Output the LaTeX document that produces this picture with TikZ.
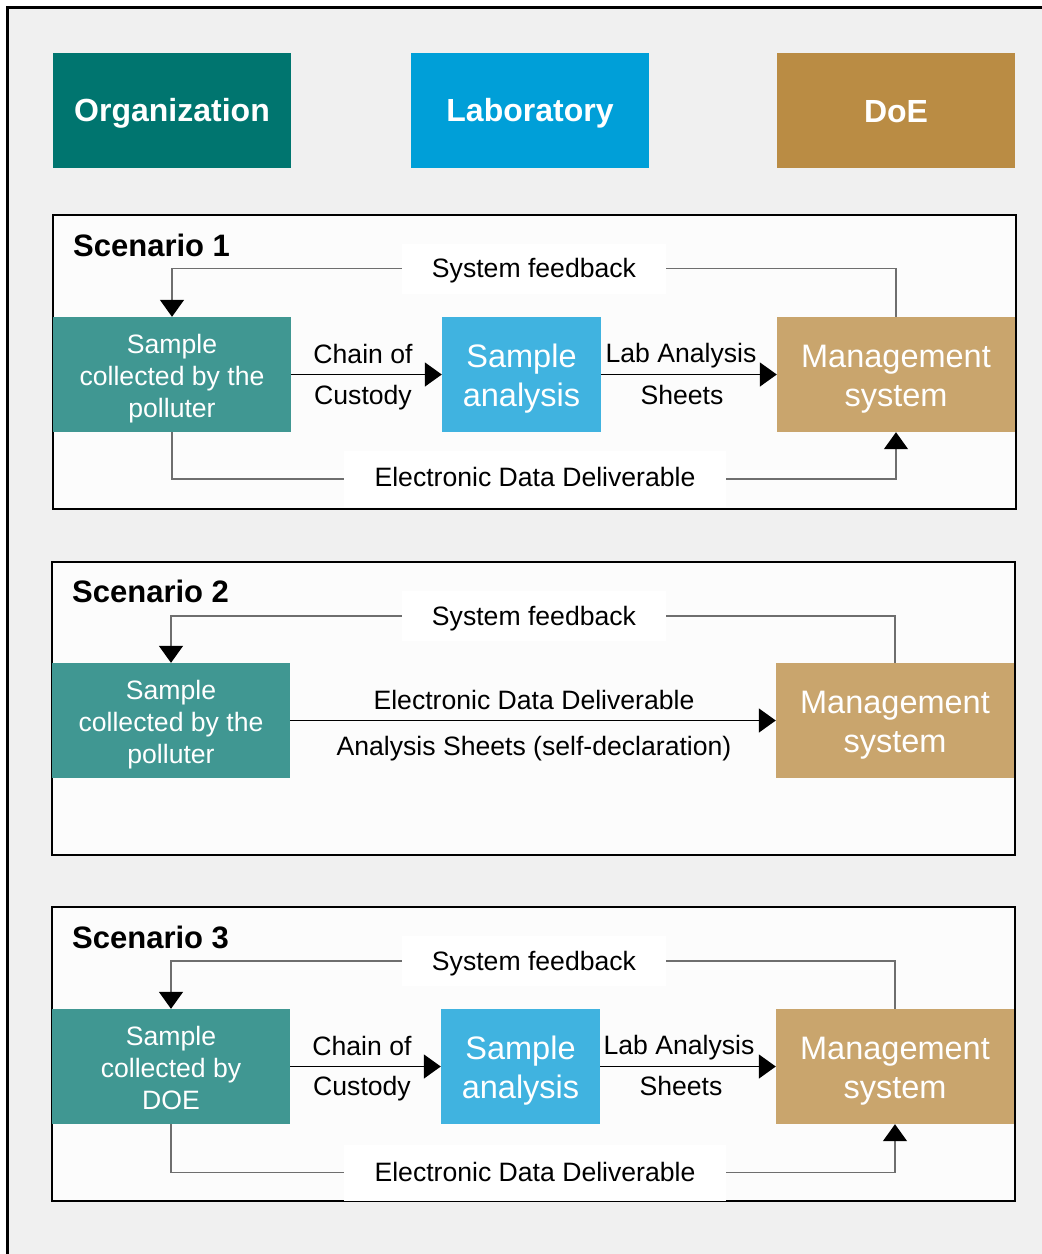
\documentclass[tikz,border=0pt]{standalone}
\usepackage{fontspec}
\setmainfont{Liberation Sans}
\usetikzlibrary{arrows.meta}
\definecolor{pagegray}{HTML}{F0F0F0}
\definecolor{panelfill}{HTML}{FCFCFC}
\definecolor{orgdark}{HTML}{00756F}
\definecolor{labdark}{HTML}{009FD8}
\definecolor{doedark}{HTML}{BA8C44}
\definecolor{sampteal}{HTML}{409792}
\definecolor{labblue}{HTML}{40B3E0}
\definecolor{mgmtgold}{HTML}{C9A56D}
\definecolor{linegray}{HTML}{6E6E6E}
% lower a (possibly multi-line) text block inside its box without changing the box
\newcommand\dropby[2]{\raisebox{-#1}[\height][\depth]{\begin{tabular}{@{}c@{}}#2\end{tabular}}}
\tikzset{
  head/.style={minimum width=238pt, minimum height=115pt, inner sep=0pt, text=white,
    font=\fontsize{32}{37}\selectfont\bfseries},
  panel/.style={draw=black, line width=2pt, fill=panelfill},
  scentitle/.style={anchor=west, inner sep=0pt, font=\fontsize{31}{36}\selectfont\bfseries},
  sampbox/.style={fill=sampteal, text=white, minimum width=238pt, minimum height=115pt,
    inner sep=0pt, font=\fontsize{26.6}{32}\selectfont},
  labbox/.style={fill=labblue, text=white, minimum width=159pt, minimum height=115pt,
    inner sep=0pt, font=\fontsize{32.5}{39}\selectfont},
  mgmtbox/.style={fill=mgmtgold, text=white, minimum width=238pt, minimum height=115pt,
    inner sep=0pt, font=\fontsize{32.5}{39}\selectfont},
  fbtag/.style={fill=white, minimum width=264pt, minimum height=50pt, inner sep=0pt,
    font=\fontsize{26.6}{30}\selectfont},
  eddtag/.style={fill=white, minimum width=382pt, minimum height=56pt, inner sep=0pt,
    font=\fontsize{26.6}{30}\selectfont},
  flowtxt/.style={inner sep=0pt, font=\fontsize{26.6}{30}\selectfont},
  fbline/.style={draw=linegray, line width=1.5pt},
  fbarrow/.style={fbline, -{Triangle[length=17pt,width=24pt,color=black]}},
  mainarrow/.style={draw=black, line width=1.5pt, -{Triangle[length=17pt,width=24pt]}}
}
\begin{document}
\begin{tikzpicture}[x=1pt,y=-1pt]
\useasboundingbox (0,0) rectangle (1042,1254);
% page background and frame
\fill[white] (0,0) rectangle (1042,1254);
\fill[pagegray] (7,7) rectangle (1042,1254);
\draw[line width=3pt] (7,1254) -- (7,7) -- (1042,7);

% column headers
\node[head, fill=orgdark] (hOrg) at (172,110.5) {\dropby{4pt}{Organization}};
\node[head, fill=labdark] (hLab) at (530,110.5) {\dropby{4pt}{Laboratory}};
\node[head, fill=doedark] (hDoe) at (896,110.5) {\dropby{5pt}{DoE}};

% ---------------- Scenario 1 ----------------
\draw[panel] (53,215) rectangle (1016,509);
\node[scentitle] (t1) at (73,245) {Scenario 1};
\node[sampbox] (s1) at (172,374.5) {\dropby{5pt}{Sample\\collected by the\\polluter}};
\node[labbox]  (a1) at (521.5,374.5) {\dropby{5pt}{Sample\\analysis}};
\node[mgmtbox] (m1) at (896,374.5) {\dropby{5pt}{Management\\system}};
\node[fbtag]  (fb1) at (534,268.5) {\dropby{3pt}{System feedback}};
\node[eddtag] (e1) at (535,479) {\dropby{1.5pt}{Electronic Data Deliverable}};
\draw[fbline]  (m1.north) |- (fb1.east);
\draw[fbarrow] (fb1.west) -| (s1.north);
\draw[fbline]  (s1.south) |- (e1.west);
\draw[fbarrow] (e1.east) -| (m1.south);
\draw[mainarrow] (s1.east) -- (a1.west);
\draw[mainarrow] (a1.east) -- (m1.west);
\node[flowtxt] (c1a) at (363,354) {Chain of};
\node[flowtxt] (c1b) at (363,398) {Custody};
\node[flowtxt] (l1a) at (681,356) {Lab Analysis};
\node[flowtxt] (l1b) at (682,395) {Sheets};

% ---------------- Scenario 2 ----------------
\draw[panel] (52,562) rectangle (1015,855);
\node[scentitle] (t2) at (72,591) {Scenario 2};
\node[sampbox] (s2) at (171,720.5) {\dropby{5pt}{Sample\\collected by the\\polluter}};
\node[mgmtbox] (m2) at (895,720.5) {\dropby{5pt}{Management\\system}};
\node[fbtag]  (fb2) at (534,616) {\dropby{3pt}{System feedback}};
\draw[fbline]  (m2.north) |- (fb2.east);
\draw[fbarrow] (fb2.west) -| (s2.north);
\draw[mainarrow] (s2.east) -- (m2.west);
\node[flowtxt] (d2a) at (534,700) {Electronic Data Deliverable};
\node[flowtxt] (d2b) at (534,749) {Analysis Sheets (self-declaration)};

% ---------------- Scenario 3 ----------------
\draw[panel] (52,907) rectangle (1015,1201);
\node[scentitle] (t3) at (72,937) {Scenario 3};
\node[sampbox] (s3) at (171,1066.5) {\dropby{5pt}{Sample\\collected by\\DOE}};
\node[labbox]  (a3) at (520.5,1066.5) {\dropby{5pt}{Sample\\analysis}};
\node[mgmtbox] (m3) at (895,1066.5) {\dropby{5pt}{Management\\system}};
\node[fbtag]  (fb3) at (534,961) {\dropby{3pt}{System feedback}};
\node[eddtag] (e3) at (535,1172.5) {\dropby{3pt}{Electronic Data Deliverable}};
\draw[fbline]  (m3.north) |- (fb3.east);
\draw[fbarrow] (fb3.west) -| (s3.north);
\draw[fbline]  (s3.south) |- (e3.west);
\draw[fbarrow] (e3.east) -| (m3.south);
\draw[mainarrow] (s3.east) -- (a3.west);
\draw[mainarrow] (a3.east) -- (m3.west);
\node[flowtxt] (c3a) at (362,1046) {Chain of};
\node[flowtxt] (c3b) at (362,1089) {Custody};
\node[flowtxt] (l3a) at (679,1048) {Lab Analysis};
\node[flowtxt] (l3b) at (681,1086) {Sheets};
\end{tikzpicture}
\end{document}
